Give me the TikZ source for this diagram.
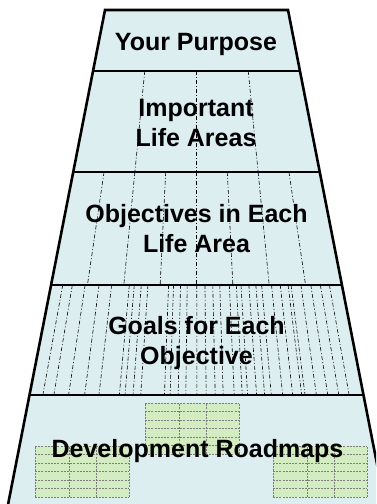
\documentclass[tikz,border=0pt]{standalone}
\usepackage{fontspec}
\setmainfont{Liberation Sans}
\usetikzlibrary{calc}
\definecolor{levelblue}{RGB}{221,238,241}
\definecolor{mapgreen}{RGB}{212,236,194}
\definecolor{mapgray}{RGB}{125,125,125}

\begin{document}
\begin{tikzpicture}[x=1pt,y=1pt]
\tikzset{edge/.style={draw=black,line width=2.6pt,line join=miter},
  split/.style={draw=black,line width=.6pt,dash pattern=on 4pt off 2pt on 1pt off 2pt},
  cell/.style={draw=mapgray,line width=.6pt,dash pattern=on 2pt off 1.2pt},
  lab/.style={font=\bfseries\fontsize{25}{30}\selectfont,align=center,inner sep=0pt}}
\clip (0,0) rectangle (376,504);
% corners of the frustum at each level boundary
\coordinate (l0) at (105,494);   \coordinate (r0) at (288,494);
\coordinate (l1) at (93,433);    \coordinate (r1) at (300,433);
\coordinate (l2) at (73.25,332); \coordinate (r2) at (319.75,332);
\coordinate (l3) at (51.1,219);  \coordinate (r3) at (341.9,219);
\coordinate (l4) at (29.5,109);  \coordinate (r4) at (363.5,109);
\coordinate (l5) at (5,-16);     \coordinate (r5) at (388,-16);
\fill[levelblue] (l0) -- (r0) -- (r5) -- (l5) -- cycle;

% roadmap tables
\foreach \gx/\gy in {145/49.7,35/7,273/7}{
  \begin{scope}[shift={(\gx,\gy)}]
    \fill[mapgreen] (0,0) rectangle (94,51);
    \foreach \row in {0,...,6} \draw[cell] (0,\row*8.5) -- (94,\row*8.5);
    \foreach \col in {0,34,61,94} \draw[cell] (\col,0) -- (\col,51);
  \end{scope}
}

% subdivisions of the levels
\foreach \f in {.25,.5,.75}
  \draw[split] ($(l1)!\f!(r1)$) -- ($(l2)!\f!(r2)$);
\foreach \f in {1,...,7}
  \draw[split] ($(l2)!{\f/8}!(r2)$) -- ($(l3)!{\f/8}!(r3)$);
\foreach \f in {.040,.073,.117,.165,.208,.269,.286,.310,.333,.404,.421,.445,.468,.501,
    .529,.556,.580,.613,.637,.653,.680,.704,.724,.758,.788,.815,.825,.859,.893,.926,.957}
  \draw[split] ($(l3)!\f!(r3)$) -- ($(l4)!\f!(r4)$);

\foreach \k in {1,...,4} \draw[edge] (l\k) -- (r\k);
\draw[edge] (l5) -- (l0) -- (r0) -- (r5);

\node[lab,anchor=base] (purpose) at (196,453.3) {Your Purpose};
\node[lab] (areas) at (196,381) {Important\\Life Areas};
\node[lab] (objectives) at (196.5,275) {Objectives in Each\\Life Area};
\node[lab] (goals) at (196.5,160.5) {Goals for Each\\Objective};
\node[lab,anchor=base] (roadmaps) at (197.5,46) {Development Roadmaps};
\end{tikzpicture}
\end{document}
